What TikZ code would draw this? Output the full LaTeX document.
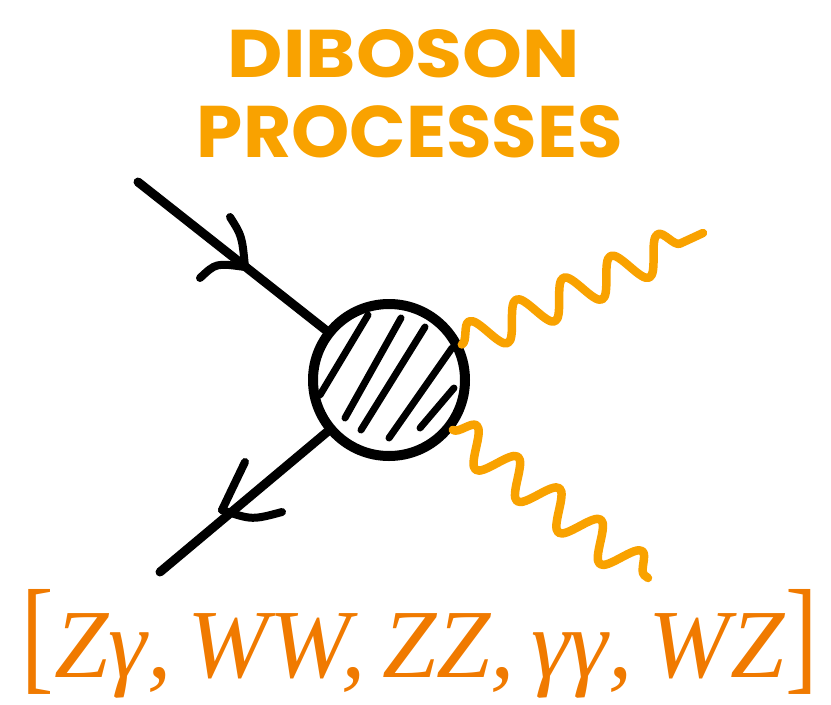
\documentclass[tikz,border=0pt]{standalone}
\usepackage{fontspec}
\usetikzlibrary{decorations.pathmorphing}
\newfontfamily\titlefont{Poppins}
\newfontfamily\listfont{Liberation Serif}
\definecolor{bosonorange}{HTML}{F9A200}
\definecolor{listorange}{HTML}{F07A00}
\begin{document}
\begin{tikzpicture}[x=1pt,y=-1pt,
  ink/.style={line width=9pt, line cap=round, line join=round},
  barb/.style={line width=8pt, line cap=round, line join=round},
  hatchline/.style={line width=7pt, line cap=round},
  wave/.style={bosonorange, line width=8.5pt, line cap=round, line join=round,
    decorate, decoration={snake, segment length=52pt, amplitude=18pt}},
  heading/.style={bosonorange, inner sep=0pt, font=\titlefont\bfseries},
]
\useasboundingbox (0,0) rectangle (831,705);

% title
\node[heading] (t1) at (404,54) {\resizebox{352pt}{48pt}{DIBOSON}};
\node[heading] (t2) at (410,132) {\resizebox{426pt}{52pt}{PROCESSES}};

% the blob
\node[circle, draw, line width=10pt, minimum size=152pt, inner sep=0pt] (blob) at (389,380) {};
\draw[hatchline] (320,395) -- (368,315);
\draw[hatchline] (345,418) -- (401,318);
\draw[hatchline] (361,430) -- (425,327);
\draw[hatchline] (389,438) -- (452,348);
\draw[hatchline] (420,428) -- (454,388);

% incoming fermion
\coordinate (qin) at (138,182);
\draw[ink] (qin) -- (blob);
\coordinate (tipA) at (245,267);
\draw[barb] (230,217) .. controls (242,236) .. (tipA);
\draw[barb] (200,278) .. controls (216,263) .. (tipA);

% outgoing fermion
\coordinate (qout) at (160,572);
\draw[ink] (blob.220) -- (qout);
\coordinate (tipB) at (222,510);
\draw[barb] (245,462) .. controls (232,489) .. (tipB);
\draw[barb] (282,512) .. controls (252,520) .. (tipB);

% bosons
\coordinate (v1) at (703,233);
\coordinate (v2) at (648,578);
\draw[wave] (blob.26) -- (v1);
\draw[wave] (blob.-38) -- (v2);

% final states
\node[listorange, inner sep=0pt, anchor=base] (procs) at (420,677)
  {\resizebox{796pt}{!}{\listfont\fontsize{97pt}{100pt}\selectfont
   \scalebox{1}[1.3]{[}\textit{Zγ,\,WW,\,ZZ,\,γγ,\,WZ}\scalebox{1}[1.3]{]}}};
\end{tikzpicture}
\end{document}
